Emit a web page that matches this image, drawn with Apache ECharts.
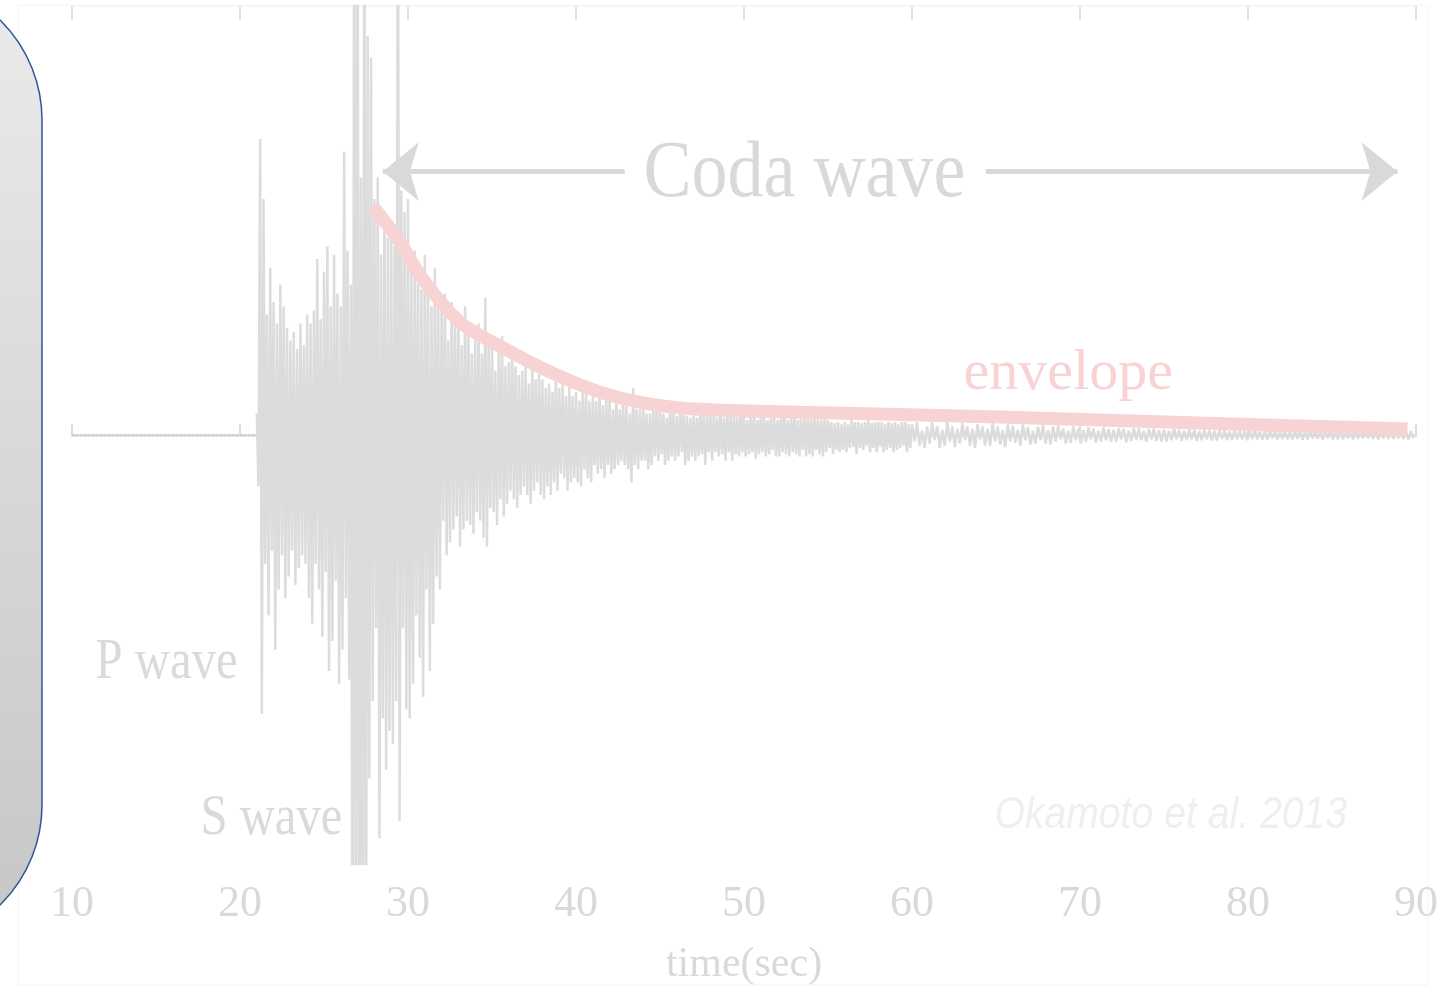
<!DOCTYPE html>
<html><head><meta charset="utf-8">
<script src="https://cdn.jsdelivr.net/npm/echarts@6/dist/echarts.min.js"></script>
<style>html,body{margin:0;padding:0;background:#fff}#c{width:1447px;height:991px}</style>
</head><body><div id="c"></div>
<script>
// ---- axis ----
const timeMin = 10, timeMax = 90, timeInterval = 10;
const axisName = 'time(sec)';

// ---- seismogram (normalised amplitude, +/-1 = plot edge) ----
const preEventTimes = [10, 21];
const preEventAmps = [0, 0];

const wave1Start = 21.0, wave1Step = 0.1;   // 21.0 .. 44.9 s
const wave1Amps = [
  0.05,-0.12,0.69,-0.65,0.55,-0.30,0.28,-0.42,0.39,-0.27,
  0.31,-0.50,0.26,-0.36,0.35,-0.28,0.30,-0.38,0.25,-0.33,
  0.22,-0.27,0.24,-0.35,0.20,-0.31,0.26,-0.28,0.21,-0.30,
  0.28,-0.38,0.26,-0.44,0.29,-0.30,0.41,-0.36,0.27,-0.47,
  0.38,-0.32,0.44,-0.55,0.30,-0.48,0.42,-0.34,0.33,-0.58,
  0.30,-0.50,0.66,-0.38,0.43,-0.57,0.35,-1.5,1.5,-1.5,
  1.5,-1.5,0.60,-1.5,1.5,-1.5,0.93,-0.80,0.88,-0.62,
  0.55,-0.45,0.60,-0.94,0.42,-0.66,0.52,-0.78,0.46,-0.69,
  0.50,-0.72,0.44,-0.62,1.5,-0.90,0.57,-0.45,0.52,-0.64,
  0.55,-0.66,0.40,-0.58,0.43,-0.42,0.40,-0.52,0.34,-0.61,
  0.42,-0.36,0.36,-0.55,0.30,-0.44,0.39,-0.33,0.31,-0.36,
  0.30,-0.20,0.33,-0.28,0.22,-0.25,0.31,-0.22,0.26,-0.19,
  0.28,-0.26,0.21,-0.22,0.30,-0.20,0.24,-0.21,0.19,-0.23,
  0.22,-0.18,0.26,-0.20,0.19,-0.24,0.32,-0.26,0.21,-0.17,
  0.22,-0.18,0.15,-0.21,0.20,-0.15,0.23,-0.19,0.16,-0.16,
  0.17,-0.13,0.20,-0.15,0.16,-0.17,0.14,-0.14,0.15,-0.12,
  0.16,-0.14,0.12,-0.16,0.17,-0.13,0.13,-0.11,0.15,-0.14,
  0.13,-0.15,0.11,-0.12,0.12,-0.14,0.10,-0.11,0.15,-0.13,
  0.11,-0.09,0.12,-0.10,0.09,-0.13,0.12,-0.11,0.09,-0.10,
  0.10,-0.11,0.08,-0.12,0.11,-0.08,0.10,-0.10,0.08,-0.11,
  0.09,-0.07,0.08,-0.09,0.10,-0.08,0.07,-0.10,0.09,-0.07,
  0.08,-0.09,0.06,-0.08,0.09,-0.07,0.06,-0.06,0.08,-0.07,
  0.07,-0.08,0.05,-0.11,0.11,-0.07,0.06,-0.08,0.06,-0.06,
  0.07,-0.06,0.05,-0.08,0.05,-0.07,0.06,-0.05,0.07,-0.06
];

const wave2Start = 45.0, wave2Step = 0.1;   // 45.0 .. 59.9 s
const wave2Amps = [
  0.06,-0.045,0.05,-0.07,0.04,-0.06,0.07,-0.05,0.05,-0.06,
  0.045,-0.05,0.06,-0.04,0.05,-0.07,0.045,-0.06,0.04,-0.05,
  0.05,-0.06,0.04,-0.05,0.06,-0.045,0.045,-0.07,0.05,-0.04,
  0.045,-0.06,0.05,-0.04,0.04,-0.05,0.06,-0.045,0.04,-0.06,
  0.05,-0.04,0.045,-0.06,0.05,-0.045,0.04,-0.05,0.06,-0.04,
  0.045,-0.05,0.035,-0.045,0.05,-0.04,0.045,-0.055,0.035,-0.045,
  0.05,-0.04,0.045,-0.05,0.035,-0.045,0.05,-0.035,0.04,-0.05,
  0.035,-0.05,0.045,-0.04,0.05,-0.045,0.035,-0.05,0.045,-0.04,
  0.045,-0.045,0.035,-0.05,0.04,-0.035,0.045,-0.05,0.04,-0.045,
  0.04,-0.05,0.045,-0.035,0.04,-0.045,0.035,-0.05,0.045,-0.04,
  0.035,-0.03,0.03,-0.045,0.028,-0.035,0.03,-0.04,0.025,-0.035,
  0.03,-0.04,0.025,-0.03,0.035,-0.028,0.03,-0.045,0.03,-0.03,
  0.028,-0.035,0.03,-0.025,0.035,-0.04,0.028,-0.03,0.03,-0.04,
  0.03,-0.028,0.03,-0.04,0.025,-0.035,0.03,-0.03,0.028,-0.04,
  0.03,-0.035,0.025,-0.03,0.03,-0.025,0.03,-0.04,0.025,-0.03
];

const wave3Start = 60.0, wave3Step = 0.15;  // 60.0 .. 89.85 s
const wave3Amps = [
  0.025,-0.015,0.03,-0.025,0.01,-0.03,0.02,-0.02,0.03,-0.012,
  0.02,-0.03,0.012,-0.025,0.03,-0.015,0.02,-0.028,0.015,-0.02,
  0.028,-0.012,0.02,-0.025,0.015,-0.03,0.025,-0.01,0.02,-0.025,
  0.015,-0.025,0.028,-0.015,0.02,-0.022,0.012,-0.028,0.025,-0.015,
  0.022,-0.018,0.012,-0.025,0.025,-0.012,0.018,-0.022,0.01,-0.02,
  0.02,-0.012,0.025,-0.02,0.012,-0.022,0.02,-0.015,0.022,-0.01,
  0.015,-0.02,0.01,-0.018,0.02,-0.012,0.015,-0.02,0.012,-0.016,
  0.018,-0.01,0.015,-0.018,0.01,-0.015,0.018,-0.012,0.014,-0.016,
  0.012,-0.016,0.016,-0.01,0.014,-0.017,0.01,-0.014,0.016,-0.011,
  0.015,-0.012,0.01,-0.016,0.014,-0.01,0.016,-0.014,0.011,-0.015,
  0.013,-0.015,0.01,-0.012,0.015,-0.01,0.012,-0.014,0.01,-0.012,
  0.014,-0.01,0.012,-0.014,0.009,-0.012,0.013,-0.01,0.011,-0.013,
  0.01,-0.013,0.012,-0.009,0.011,-0.012,0.009,-0.011,0.012,-0.01,
  0.011,-0.01,0.009,-0.012,0.01,-0.009,0.012,-0.01,0.008,-0.011,
  0.01,-0.011,0.012,-0.008,0.009,-0.011,0.01,-0.009,0.011,-0.01,
  0.009,-0.01,0.011,-0.009,0.01,-0.011,0.008,-0.01,0.011,-0.008,
  0.01,-0.009,0.008,-0.011,0.01,-0.008,0.011,-0.01,0.009,-0.01,
  0.008,-0.01,0.01,-0.008,0.009,-0.01,0.008,-0.009,0.01,-0.008,
  0.009,-0.008,0.01,-0.009,0.008,-0.01,0.009,-0.008,0.01,-0.009,
  0.008,-0.009,0.009,-0.008,0.01,-0.009,0.008,-0.01,0.009,-0.008
];

// ---- coda envelope ----
const envelopeTimes = [27.92, 29.52, 30.89, 32.5, 33.51, 35.48, 38.45, 41.43, 44.4, 47.38, 53.3, 65.2, 77.1, 89.5];
const envelopeAmps  = [0.533, 0.449, 0.363, 0.286, 0.251, 0.207, 0.147, 0.100, 0.072, 0.060, 0.053, 0.042, 0.028, 0.014];

// ---- annotations (time, amplitude) ----
const codaArrowLeft  = [42.9, 28.5];
const codaArrowRight = [64.4, 88.9];
const codaArrowAmp = 0.614;
const annotationText = ['Coda wave', 'envelope', 'P wave', 'S wave', 'Okamoto et al. 2013'];
const annotationTime = [53.6, 69.3, 19.86, 26.1, 75.4];
const annotationAmp  = [0.607, 0.143, -0.530, -0.895, -0.888];

// ---- build ----
function segment(start, step, amps) {
  return amps.map((a, i) => [Math.round((start + i * step) * 100) / 100, a]);
}
const waveData = [].concat(
  segment(wave1Start, wave1Step, wave1Amps),
  segment(wave2Start, wave2Step, wave2Amps),
  segment(wave3Start, wave3Step, wave3Amps)
);
const preData = preEventTimes.map((t, i) => [t, preEventAmps[i]]);
const envData = envelopeTimes.map((t, i) => [t, envelopeAmps[i]]);

const chart = echarts.init(document.getElementById('c'), null, {renderer: 'canvas'});
const serif = '"Liberation Serif","Times New Roman",serif';
const light = '#d9d9d9';

chart.setOption({
  animation: false,
  backgroundColor: '#ffffff',
  grid: {left: 72, right: 31, top: 6, bottom: 125},
  xAxis: [{
    type: 'value', min: timeMin, max: timeMax, interval: timeInterval,
    name: axisName, nameLocation: 'middle', nameGap: 80,
    nameTextStyle: {fontFamily: serif, fontSize: 42, color: light},
    axisLine: {show: true, lineStyle: {color: '#dddddd', width: 2.5}},
    axisTick: {show: true, inside: true, length: 11, lineStyle: {color: '#dddddd', width: 2}},
    axisLabel: {fontFamily: serif, fontSize: 44, color: light, margin: 18},
    splitLine: {show: false}
  }, {
    type: 'value', position: 'top', min: timeMin, max: timeMax, interval: timeInterval,
    axisLine: {show: true, lineStyle: {color: '#f4f4f4', width: 1}},
    axisTick: {show: true, inside: true, length: 14, lineStyle: {color: '#e2e2e2', width: 2}},
    axisLabel: {show: false}, splitLine: {show: false}
  }],
  yAxis: {type: 'value', min: -1, max: 1, show: false},
  series: [
    {type: 'line', data: preData, showSymbol: false, silent: true,
     lineStyle: {color: '#c8c8c8', width: 1.5, type: [3, 1]}},
    {type: 'line', data: waveData, showSymbol: false, silent: true, clip: true,
     lineStyle: {color: '#dcdcdc', width: 2.5, join: 'bevel'}},
    {type: 'line', data: envData, showSymbol: false, silent: true, smooth: 0.4,
     lineStyle: {color: '#f8d3d3', width: 13, cap: 'butt'},
     markLine: {
       silent: true, symbol: ['none', 'arrow'], symbolSize: [44, 36],
       label: {show: false},
       lineStyle: {color: '#d9d9d9', width: 5, type: 'solid'},
       data: [
         [{coord: [codaArrowLeft[0], codaArrowAmp]}, {coord: [codaArrowLeft[1], codaArrowAmp]}],
         [{coord: [codaArrowRight[0], codaArrowAmp]}, {coord: [codaArrowRight[1], codaArrowAmp]}]
       ]
     }}
  ]
});

const styles = [
  {font: '80px ' + serif, fill: '#d9d9d9', align: 'center', sx: 0.9},
  {font: '58px ' + serif, fill: '#f9d3d3', align: 'center', sx: 1},
  {font: '58px ' + serif, fill: '#dadada', align: 'right', sx: 0.84},
  {font: '58px ' + serif, fill: '#dadada', align: 'right', sx: 0.84},
  {font: 'italic 44px "Liberation Sans",Arial,sans-serif', fill: '#efefef', align: 'center', sx: 0.89}
];
const graphics = [
  {type: 'rect', z: 100, shape: {x: -200, y: -20, width: 242, height: 965, r: [0, 140, 140, 0]},
   style: {fill: new echarts.graphic.LinearGradient(0, 0, 0, 1, [
     {offset: 0, color: '#ebebeb'}, {offset: 1, color: '#c6c6c6'}]),
     stroke: '#2f5597', lineWidth: 1.5}},
  {type: 'rect', z: -1, silent: true, shape: {x: 18, y: 5, width: 1410, height: 980},
   style: {fill: 'none', stroke: '#f4f4f4', lineWidth: 1}}
];
annotationText.forEach((txt, i) => {
  const p = chart.convertToPixel({xAxisIndex: 0, yAxisIndex: 0}, [annotationTime[i], annotationAmp[i]]);
  const s = styles[i];
  graphics.push({type: 'text', x: p[0], y: p[1], scaleX: s.sx, z: 50, silent: true,
    style: {text: txt, font: s.font, fill: s.fill, textAlign: s.align, textVerticalAlign: 'middle'}});
});
chart.setOption({graphic: graphics});
</script></body></html>
